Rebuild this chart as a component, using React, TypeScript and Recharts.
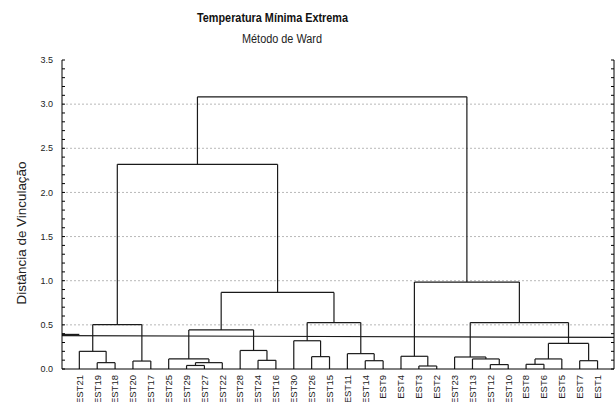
import React from 'react';
import { ComposedChart, XAxis, YAxis, ReferenceLine, Scatter } from 'recharts';

const leaves = [
  'EST21', 'EST19', 'EST18', 'EST20', 'EST17', 'EST25', 'EST29', 'EST27', 'EST22', 'EST28',
  'EST24', 'EST16', 'EST30', 'EST26', 'EST15', 'EST11', 'EST14', 'EST9', 'EST4', 'EST3',
  'EST2', 'EST23', 'EST13', 'EST12', 'EST10', 'EST8', 'EST6', 'EST5', 'EST7', 'EST1',
];

// [cluster id, left member, right member, linkage distance]
const merges: [string, string, string, number][] = [
  ['m1', 'EST19', 'EST18', 0.072],
  ['m2', 'EST21', 'm1', 0.2],
  ['m3', 'EST20', 'EST17', 0.09],
  ['m4', 'm2', 'm3', 0.503],
  ['m5', 'EST29', 'EST27', 0.04],
  ['m6', 'm5', 'EST22', 0.072],
  ['m7', 'EST25', 'm6', 0.114],
  ['m8', 'EST24', 'EST16', 0.098],
  ['m9', 'EST28', 'm8', 0.21],
  ['m10', 'm7', 'm9', 0.443],
  ['m11', 'EST26', 'EST15', 0.14],
  ['m12', 'EST30', 'm11', 0.32],
  ['m13', 'EST14', 'EST9', 0.094],
  ['m14', 'EST11', 'm13', 0.174],
  ['m15', 'm12', 'm14', 0.526],
  ['m16', 'm10', 'm15', 0.867],
  ['m17', 'm4', 'm16', 2.318],
  ['m18', 'EST3', 'EST2', 0.034],
  ['m19', 'EST4', 'm18', 0.144],
  ['m20', 'EST12', 'EST10', 0.05],
  ['m21', 'EST13', 'm20', 0.114],
  ['m22', 'EST23', 'm21', 0.136],
  ['m23', 'EST8', 'EST6', 0.053],
  ['m24', 'm23', 'EST5', 0.114],
  ['m25', 'EST7', 'EST1', 0.094],
  ['m26', 'm24', 'm25', 0.29],
  ['m27', 'm22', 'm26', 0.526],
  ['m28', 'm19', 'm27', 0.985],
  ['m29', 'm17', 'm28', 3.083],
];

const yMinorTicks = [
  0, 0.1, 0.2, 0.3, 0.4, 0.5, 0.6, 0.7, 0.8, 0.9, 1.0, 1.1, 1.2, 1.3, 1.4, 1.5, 1.6, 1.7,
  1.8, 1.9, 2.0, 2.1, 2.2, 2.3, 2.4, 2.5, 2.6, 2.7, 2.8, 2.9, 3.0, 3.1, 3.2, 3.3, 3.4, 3.5,
];
const yLabelTicks = [0, 0.5, 1.0, 1.5, 2.0, 2.5, 3.0, 3.5];
const gridValues = [0.5, 1.0, 1.5, 2.0, 2.5, 3.0];

// cut line: distance at left edge, distance at right edge
const cutLine = [0.378, 0.358];
const cutMark = 0.39;

const title = 'Temperatura Mínima Extrema';
const subtitle = 'Método de Ward';
const yTitle = 'Distância de Vinculação';

const xDomain: [number, number] = [-0.97, 29.92];
const yDomain: [number, number] = [0, 3.5];

const leafIndex = leaves.map((_, i) => i);
const leafPoints = leaves.map((name, i) => ({ x: i, y: 0, name }));

type Seg = [{ x: number; y: number }, { x: number; y: number }];
const segments: Seg[] = (() => {
  const pos: Record<string, { x: number; h: number }> = {};
  leaves.forEach((n, i) => (pos[n] = { x: i, h: 0 }));
  const out: Seg[] = [];
  merges.forEach(([id, a, b, h]) => {
    const A = pos[a];
    const B = pos[b];
    out.push([{ x: A.x, y: A.h }, { x: A.x, y: h }]);
    out.push([{ x: B.x, y: B.h }, { x: B.x, y: h }]);
    out.push([{ x: A.x, y: h }, { x: B.x, y: h }]);
    pos[id] = { x: (A.x + B.x) / 2, h };
  });
  return out;
})();

const FONT = '"Liberation Sans", Arial, Helvetica, sans-serif';
const isLabelTick = (v: number) => yLabelTicks.some((t) => Math.abs(t - v) < 1e-6);

const LeftTick = (props: any) => {
  const { x, y, payload } = props;
  const v = payload.value as number;
  return (
    <g>
      <line x1={x} x2={x + 3} y1={y} y2={y} stroke="#000" strokeWidth={1} />
      {isLabelTick(v) && (
        <text x={x - 9} y={y} dy="0.35em" textAnchor="end" fontSize={9} fill="#222" fontFamily={FONT}>
          {v.toFixed(1)}
        </text>
      )}
    </g>
  );
};

const RightTick = (props: any) => {
  const { x, y } = props;
  return <line x1={x - 3} x2={x} y1={y} y2={y} stroke="#000" strokeWidth={1} />;
};

const TopTick = (props: any) => {
  const { x, y } = props;
  return <line x1={x} x2={x} y1={y} y2={y + 3} stroke="#000" strokeWidth={1} />;
};

const BottomTick = (props: any) => {
  const { x, y, payload } = props;
  const label = leaves[Math.round(payload.value)];
  return (
    <text
      x={x}
      y={y}
      dy="0.35em"
      textAnchor="end"
      fontSize={9.5}
      fill="#222"
      fontFamily={FONT}
      transform={`rotate(-90, ${x}, ${y})`}
    >
      {label}
    </text>
  );
};

export default function App() {
  return (
    <div style={{ position: 'absolute', left: 0, top: 0, width: 616, height: 402, background: '#fff' }}>
      <ComposedChart
        width={616}
        height={402}
        margin={{ top: 60, right: 0, bottom: 0, left: 0 }}
        data={leafPoints}
      >
        <XAxis
          dataKey="x"
          type="number"
          domain={xDomain}
          ticks={leafIndex}
          interval={0}
          height={33}
          tickSize={0}
          tickMargin={6}
          tick={<BottomTick />}
          axisLine={{ stroke: '#000', strokeWidth: 1 }}
          tickLine={false}
          allowDataOverflow
        />
        <XAxis
          xAxisId="top"
          orientation="top"
          dataKey="x"
          type="number"
          domain={xDomain}
          ticks={leafIndex}
          interval={0}
          height={0}
          tickSize={0}
          tickMargin={0}
          tick={<TopTick />}
          axisLine={{ stroke: '#000', strokeWidth: 1 }}
          tickLine={false}
          allowDataOverflow
        />
        <YAxis
          type="number"
          domain={yDomain}
          ticks={yMinorTicks}
          interval={0}
          width={62}
          tickSize={0}
          tickMargin={0}
          tick={<LeftTick />}
          axisLine={{ stroke: '#000', strokeWidth: 1 }}
          tickLine={false}
          allowDataOverflow
        />
        <YAxis
          yAxisId="right"
          orientation="right"
          type="number"
          domain={yDomain}
          ticks={yMinorTicks}
          interval={0}
          width={2}
          tickSize={0}
          tickMargin={0}
          tick={<RightTick />}
          axisLine={{ stroke: '#000', strokeWidth: 1 }}
          tickLine={false}
          allowDataOverflow
        />
        {gridValues.map((v) => (
          <ReferenceLine key={`g${v}`} y={v} stroke="#b8b8b8" strokeDasharray="2 2" strokeWidth={1} />
        ))}
        <Scatter dataKey="y" isAnimationActive={false} shape={() => <g />} />
        {segments.map((s, i) => (
          <ReferenceLine key={`s${i}`} segment={s} stroke="#1a1a1a" strokeWidth={1.2} ifOverflow="visible" />
        ))}
        <ReferenceLine
          segment={[{ x: xDomain[0], y: cutLine[0] }, { x: xDomain[1], y: cutLine[1] }]}
          stroke="#1a1a1a"
          strokeWidth={1.2}
          ifOverflow="visible"
        />
        <ReferenceLine
          segment={[{ x: xDomain[0], y: cutMark }, { x: 0, y: cutMark }]}
          stroke="#1a1a1a"
          strokeWidth={1.5}
          ifOverflow="visible"
        />
      </ComposedChart>
      <svg
        width={616}
        height={402}
        style={{ position: 'absolute', left: 0, top: 0, pointerEvents: 'none' }}
      >
        <text
          x={272.5}
          y={21.5}
          textAnchor="middle"
          fontSize={13}
          fontWeight="bold"
          fontFamily={FONT}
          fill="#111"
          textLength={151}
          lengthAdjust="spacingAndGlyphs"
        >
          {title}
        </text>
        <text
          x={282}
          y={43.3}
          textAnchor="middle"
          fontSize={12.5}
          fontFamily={FONT}
          fill="#222"
          textLength={80}
          lengthAdjust="spacingAndGlyphs"
        >
          {subtitle}
        </text>
        <text
          transform="translate(26, 233) rotate(-90)"
          textAnchor="middle"
          fontSize={12.5}
          fontFamily={FONT}
          fill="#222"
          textLength={143}
          lengthAdjust="spacingAndGlyphs"
        >
          {yTitle}
        </text>
      </svg>
    </div>
  );
}
